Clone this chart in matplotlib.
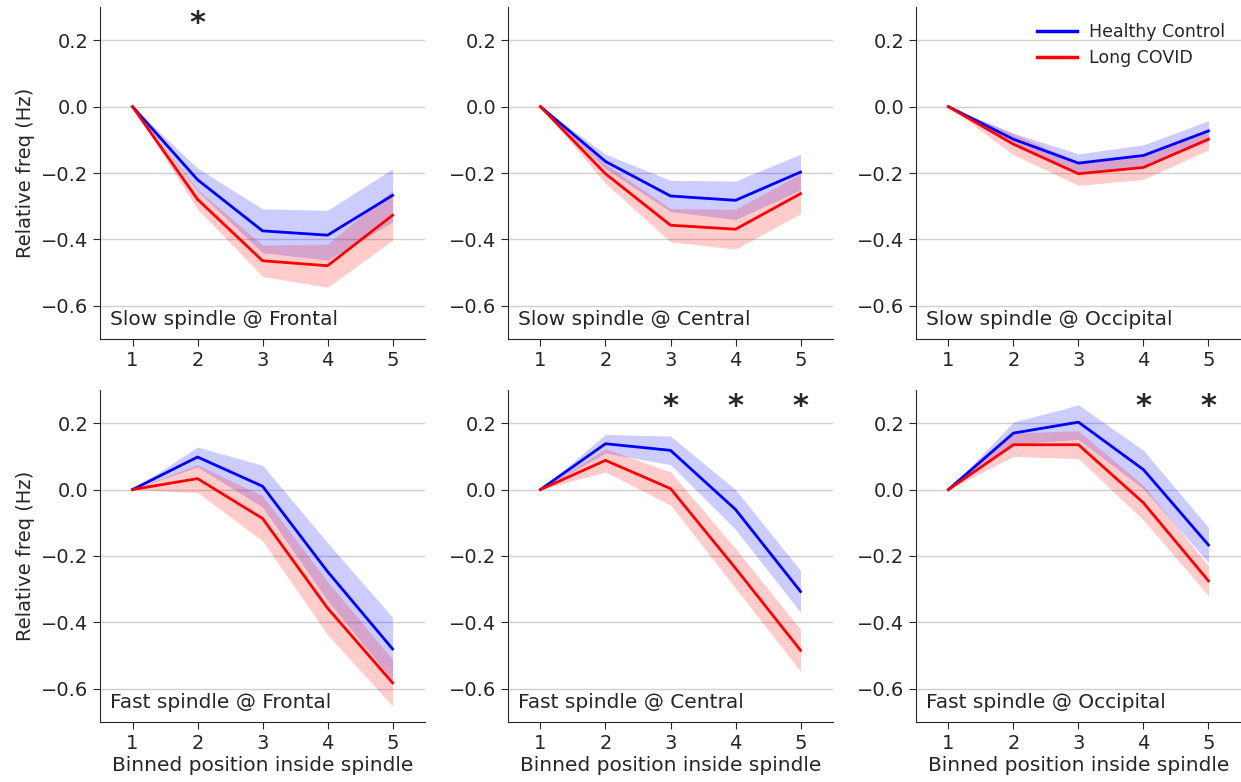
import numpy as np
from matplotlib import pyplot as plt
from matplotlib.lines import Line2D

# Data ------------------------------------------------------------------------
positions = [1, 2, 3, 4, 5]

panel_titles = [
    'Slow spindle @ Frontal', 'Slow spindle @ Central', 'Slow spindle @ Occipital',
    'Fast spindle @ Frontal', 'Fast spindle @ Central', 'Fast spindle @ Occipital'
]

# Healthy control mean / sem per panel
hc_mean = [
    [0.0, -0.220, -0.374, -0.387, -0.267],
    [0.0, -0.165, -0.269, -0.282, -0.197],
    [0.0, -0.098, -0.170, -0.147, -0.073],
    [0.0, 0.098, 0.010, -0.247, -0.480],
    [0.0, 0.138, 0.118, -0.060, -0.307],
    [0.0, 0.170, 0.203, 0.060, -0.167],
]
hc_sem = [
    [0.0, 0.035, 0.066, 0.075, 0.080],
    [0.0, 0.022, 0.047, 0.058, 0.054],
    [0.0, 0.018, 0.028, 0.032, 0.031],
    [0.0, 0.030, 0.063, 0.087, 0.095],
    [0.0, 0.028, 0.043, 0.060, 0.063],
    [0.0, 0.033, 0.052, 0.058, 0.053],
]

# Long COVID mean / sem per panel
lc_mean = [
    [0.0, -0.279, -0.464, -0.479, -0.327],
    [0.0, -0.202, -0.357, -0.369, -0.262],
    [0.0, -0.113, -0.202, -0.183, -0.098],
    [0.0, 0.033, -0.087, -0.357, -0.582],
    [0.0, 0.088, 0.003, -0.237, -0.484],
    [0.0, 0.135, 0.135, -0.040, -0.275],
]
lc_sem = [
    [0.0, 0.030, 0.047, 0.065, 0.075],
    [0.0, 0.029, 0.050, 0.060, 0.060],
    [0.0, 0.032, 0.035, 0.036, 0.032],
    [0.0, 0.042, 0.068, 0.080, 0.070],
    [0.0, 0.035, 0.050, 0.060, 0.063],
    [0.0, 0.035, 0.042, 0.052, 0.045],
]

# Significant bins per panel
significant_bins = [[2], [], [], [], [3, 4, 5], [4, 5]]

y_ticks = [-0.6, -0.4, -0.2, 0.0, 0.2]

# Style -----------------------------------------------------------------------
plt.rcParams['font.family'] = ['DejaVu Sans']
plt.rcParams['text.color'] = '#262626'
plt.rcParams['axes.labelcolor'] = '#262626'
plt.rcParams['xtick.color'] = '#262626'
plt.rcParams['ytick.color'] = '#262626'

hc_color = '#0000ff'
lc_color = '#ff0000'

fig, axes = plt.subplots(2, 3, figsize=(12.41, 7.82), dpi=100)
fig.subplots_adjust(left=0.0806, right=1.0, bottom=0.0767, top=0.991,
                    wspace=0.255, hspace=0.153)

for i, ax in enumerate(axes.flat):
    hm = np.array(hc_mean[i])
    hs = np.array(hc_sem[i])
    lm = np.array(lc_mean[i])
    ls = np.array(lc_sem[i])

    ax.fill_between(positions, hm - hs, hm + hs, color=hc_color, alpha=0.2, lw=0)
    ax.fill_between(positions, lm - ls, lm + ls, color=lc_color, alpha=0.2, lw=0)
    ax.plot(positions, hm, color=hc_color, lw=2, label='Healthy Control')
    ax.plot(positions, lm, color=lc_color, lw=2, label='Long COVID')

    for b in significant_bins[i]:
        ax.text(b, 0.25, '*', ha='center', va='center', fontsize=22,
                fontweight='bold', color='#262626')

    ax.set_xlim(0.5, 5.5)
    ax.set_ylim(-0.7, 0.3)
    ax.set_xticks(positions)
    ax.set_yticks(y_ticks)
    ax.tick_params(labelsize=14, length=5, color='#262626')

    ax.yaxis.grid(True, color='#d0d0d0', lw=1)
    ax.set_axisbelow(True)
    for side in ['top', 'right']:
        ax.spines[side].set_visible(False)
    for side in ['left', 'bottom']:
        ax.spines[side].set_color('#262626')

    ax.text(0.03, 0.03, panel_titles[i], transform=ax.transAxes,
            fontsize=14.5, ha='left', va='bottom')

    if i % 3 == 0:
        ax.set_ylabel('Relative freq (Hz)', fontsize=14)
    if i >= 3:
        ax.set_xlabel('Binned position inside spindle', fontsize=14.5, labelpad=2)

legend_elements = [
    Line2D([0], [0], color=hc_color, lw=2.5, label='Healthy Control'),
    Line2D([0], [0], color=lc_color, lw=2.5, label='Long COVID')
]
axes[0, 2].legend(handles=legend_elements, loc='upper right', frameon=False,
                  fontsize=12.5, handlelength=2.3, handletextpad=0.7,
                  labelspacing=0.5, bbox_to_anchor=(1.0, 1.0))

plt.savefig('out.png', dpi=100)
